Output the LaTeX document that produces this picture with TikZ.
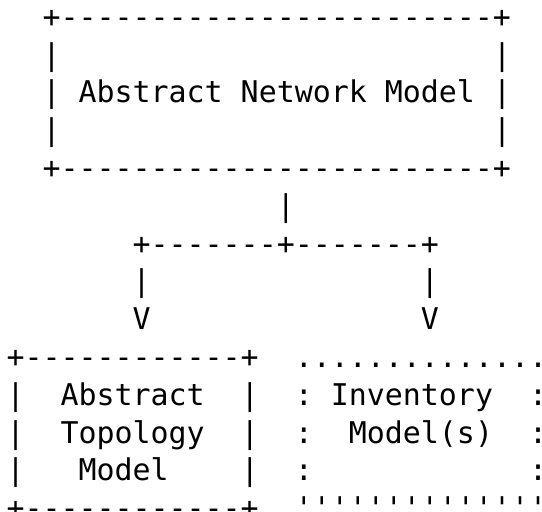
\documentclass[tikz,border=0pt]{standalone}
\usepackage{fontspec}
\setmonofont{DejaVu Sans Mono}
\tikzset{ch/.style={anchor=base west, inner sep=0pt, outer sep=0pt,
  font=\ttfamily\fontsize{29.93}{36}\selectfont, text=black}}
% \asc{row}{col}{text}: place text in the character grid
\newcommand\asc[3]{\node[ch] (r#1c#2) at ({6.5+18.02*#2},{512-103-(#1-2)*37.8}) {#3};}
\begin{document}
\begin{tikzpicture}[x=1pt,y=1pt]
\useasboundingbox (0,0) rectangle (542,512);
% Abstract Network Model box
\asc{0}{2}{+------------------------+}
\asc{1}{2}{|}\asc{1}{27}{|}
\asc{2}{2}{|}\asc{2}{4}{Abstract Network Model}\asc{2}{27}{|}
\asc{3}{2}{|}\asc{3}{27}{|}
\asc{4}{2}{+------------------------+}
% connectors
\asc{5}{15}{|}
\asc{6}{7}{+-------+-------+}
\asc{7}{7}{|}\asc{7}{23}{|}
\asc{8}{7}{V}\asc{8}{23}{V}
% Abstract Topology Model box and Inventory Model(s) box
\asc{9}{0}{+------------+}\asc{9}{16}{..............}
\asc{10}{0}{|}\asc{10}{3}{Abstract}\asc{10}{13}{|}\asc{10}{16}{:}\asc{10}{18}{Inventory}\asc{10}{29}{:}
\asc{11}{0}{|}\asc{11}{3}{Topology}\asc{11}{13}{|}\asc{11}{16}{:}\asc{11}{19}{Model(s)}\asc{11}{29}{:}
\asc{12}{0}{|}\asc{12}{4}{Model}\asc{12}{13}{|}\asc{12}{16}{:}\asc{12}{29}{:}
\asc{13}{0}{+------------+}\asc{13}{16}{''''''''''''''}
\end{tikzpicture}
\end{document}
